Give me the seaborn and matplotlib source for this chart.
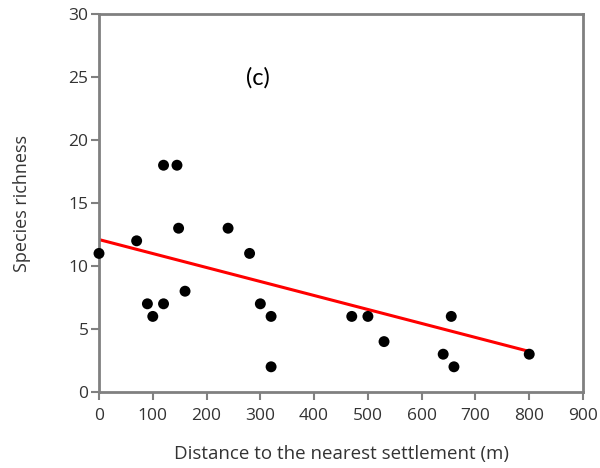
import matplotlib
matplotlib.use("Agg")
import matplotlib.pyplot as plt
import numpy as np
import pandas as pd
import seaborn as sns

# Sampling sites: distance to the nearest settlement (m) and species counted
distance_m = [0, 70, 90, 100, 120, 120, 145, 148, 160, 240, 280,
              300, 320, 320, 470, 500, 530, 640, 655, 660, 800]
richness = [11, 12, 7, 6, 18, 7, 18, 13, 8, 13, 11,
            7, 6, 2, 6, 6, 4, 3, 6, 2, 3]

# Fitted trend (intercept, slope per metre) over the sampled distance range
trend_intercept = 12.1
trend_slope = -0.0111
trend_range = [0, 800]

x_ticks = [0, 100, 200, 300, 400, 500, 600, 700, 800, 900]
y_ticks = [0, 5, 10, 15, 20, 25, 30]
panel_label = "(c)"

sns.set_theme(style="white")
plt.rcParams["font.family"] = ["Open Sans", "DejaVu Sans"]

sites = pd.DataFrame({"distance": distance_m, "richness": richness})
trend = pd.DataFrame({"distance": trend_range})
trend["richness"] = trend_intercept + trend_slope * trend["distance"]

fig = plt.figure(figsize=(6.0, 4.68), dpi=100)
ax = fig.add_axes([0.165, 0.1624, 0.8067, 0.8076])

sns.lineplot(data=trend, x="distance", y="richness", ax=ax,
             color="#ff0000", linewidth=2.2, zorder=2)
sns.scatterplot(data=sites, x="distance", y="richness", ax=ax,
                color="black", s=62, edgecolor="none", zorder=3,
                clip_on=False)

ax.set_xlim(0, 900)
ax.set_ylim(0, 30)
ax.set_xticks(x_ticks)
ax.set_yticks(y_ticks)
ax.tick_params(axis="both", which="major", direction="out", length=5.5,
               width=1.5, color="#808080", labelsize=12.5, labelcolor="#333333",
               bottom=True, left=True)
ax.tick_params(axis="x", pad=6)
ax.tick_params(axis="y", pad=2)

for side in ax.spines.values():
    side.set_color("#808080")
    side.set_linewidth(2)

ax.set_xlabel("Distance to the nearest settlement (m)", fontsize=13.5,
              color="#333333", labelpad=15)
ax.set_ylabel("Species richness", fontsize=13, color="#333333",
              labelpad=27)

ax.text(295, 24.9, panel_label, fontsize=17, color="black",
        family=["Lato", "DejaVu Sans"], ha="center", va="center")

fig.savefig("out.png", dpi=100)
